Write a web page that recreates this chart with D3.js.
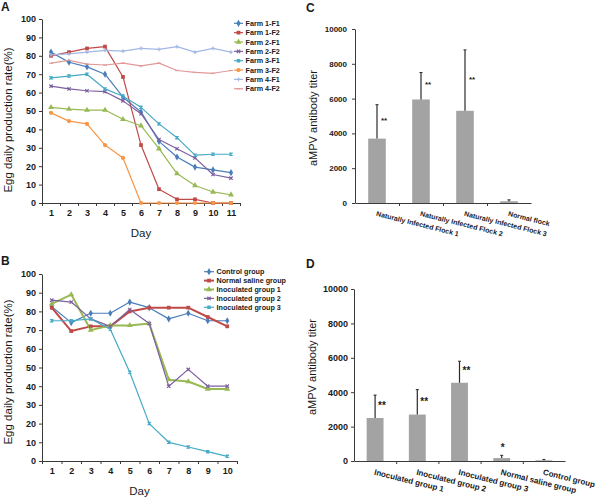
<!DOCTYPE html>
<html><head><meta charset="utf-8">
<script src="https://cdn.jsdelivr.net/npm/d3@7"></script>
<style>
body{margin:0;background:#fff}
svg text{font-family:"Liberation Sans",Arial,sans-serif;fill:#1a1a1a}
</style>
</head><body>
<svg id="c" width="600" height="500"></svg>
<script>
// ---------- Panel A data ----------
const daysA = [1,2,3,4,5,6,7,8,9,10,11];
const namesA = ["Farm 1-F1","Farm 1-F2","Farm 2-F1","Farm 2-F2","Farm 3-F1","Farm 3-F2","Farm 4-F1","Farm 4-F2"];
const farm1F1 = [82, 76.5, 74, 70, 57.5, 49.5, 33.5, 25, 19.5, 18, 16.5];
const farm1F2 = [80, 82, 84, 85, 68.5, 31.5, 7.5, 2, 2, 0, 0];
const farm2F1 = [52, 51, 50.5, 50.5, 45.5, 42, 29.5, 16, 9.5, 6, 4.5];
const farm2F2 = [63.5, 62, 61, 60.5, 55.5, 48.5, 34.5, 29.5, 24.5, 15.5, 13.5];
const farm3F1 = [68, 69, 70, 62, 58, 52, 43, 35.5, 26, 26.5, 26.5];
const farm3F2 = [49, 44.5, 43, 31.5, 24.5, 0, 0, 0, 0, 0, 0];
const farm4F1 = [80.5, 81, 82, 83, 82.5, 84, 83.5, 85, 82, 84, 82];
const farm4F2 = [76, 77.5, 75.5, 75, 76, 74.5, 76, 72, 71, 70.5, 72];

// ---------- Panel B data ----------
const daysB = [1,2,3,4,5,6,7,8,9,10];
const namesB = ["Control group","Normal saline group","Inoculated group 1","Inoculated group 2","Inoculated group 3"];
const controlB = [82.5, 74, 79, 79, 85, 82, 76, 79, 75, 75];
const salineB  = [82, 69.5, 72, 72, 80, 82, 82, 82, 77, 72];
const inoc1B   = [84, 89, 70, 72.5, 72.5, 73.5, 43.5, 42.5, 38.5, 38.5];
const inoc2B   = [86, 85, 76, 72, 81, 73.5, 40, 49, 40, 40];
const inoc3B   = [75, 75, 76, 70.5, 47.5, 20, 10, 7.5, 5, 2.5];

const pctTicks = [0,10,20,30,40,50,60,70,80,90,100];

// ---------- Panel C data ----------
const catC = ["Naturally Infected Flock 1","Naturally Infected Flock 2","Naturally Infected Flock 3","Normal flock"];
const meanC = [3700, 5950, 5300, 100];
const errC  = [1950, 1550, 3500, 80];
const sigC  = ["**","**","**",""];

// ---------- Panel D data ----------
const catD = ["Inoculated group 1","Inoculated group 2","Inoculated group 3","Normal saline group","Control group"];
const meanD = [2500, 2700, 4550, 170, 40];
const errD  = [1330, 1450, 1250, 160, 50];
const sigD  = ["**","**","**","*",""];

const titerTicks = [0,2000,4000,6000,8000,10000];

// ---------- helpers ----------
const svg = d3.select("#c");
const AX = "#3a3a3a";

const symX = {draw(c,s){const r=Math.sqrt(s)/2; c.moveTo(-r,-r);c.lineTo(r,r);c.moveTo(-r,r);c.lineTo(r,-r);}};
const symPlus = {draw(c,s){const r=Math.sqrt(s)/2; c.moveTo(-r,0);c.lineTo(r,0);c.moveTo(0,-r);c.lineTo(0,r);}};
const symAst = {draw(c,s){const r=Math.sqrt(s)/2; c.moveTo(-r,-r);c.lineTo(r,r);c.moveTo(-r,r);c.lineTo(r,-r);c.moveTo(0,-r*1.1);c.lineTo(0,r*1.1);}};
const symDash = {draw(c,s){const r=Math.sqrt(s)/2; c.moveTo(-r,0);c.lineTo(r,0);}};

const markerDefs = {
  diamond:{type:d3.symbolDiamond,size:15,fill:true},
  square:{type:d3.symbolSquare,size:14,fill:true},
  triangle:{type:d3.symbolTriangle,size:15,fill:true},
  circle:{type:d3.symbolCircle,size:14,fill:true},
  x:{type:symX,size:11,fill:false},
  ast:{type:symAst,size:10,fill:false},
  plus:{type:symPlus,size:14,fill:false},
  dash:{type:symDash,size:16,fill:false}
};

function drawMarker(g, kind, color, px, py){
  const m = markerDefs[kind];
  const p = g.append("path").attr("d", d3.symbol().type(m.type).size(m.size)())
    .attr("transform",`translate(${px},${py})`);
  if(m.fill) p.attr("fill",color).attr("stroke","none");
  else p.attr("fill","none").attr("stroke",color).attr("stroke-width",1.2);
}

function styleAxis(sel, fs){
  sel.selectAll("path.domain").attr("stroke",AX).attr("stroke-width",1);
  sel.selectAll(".tick line").attr("stroke",AX).attr("stroke-width",1);
  sel.selectAll(".tick text").attr("font-size",fs).attr("font-weight","bold").attr("fill","#1a1a1a")
     .style("font-family","'Liberation Sans',Arial,sans-serif");
}

function linePanel(cfg){
  const g = svg.append("g");
  const n = cfg.days.length;
  const x = d3.scaleLinear().domain([0.5, n+0.5]).range([cfg.x0, cfg.x1]);
  const y = d3.scaleLinear().domain([0,100]).range([cfg.yBot, cfg.yTop]);

  const ya = g.append("g").attr("transform",`translate(${cfg.x0},0)`)
    .call(d3.axisLeft(y).tickValues(pctTicks).tickFormat(d3.format("d")).tickSize(3).tickSizeOuter(0).tickPadding(3));
  styleAxis(ya, 9);

  const xm = g.append("g").attr("transform",`translate(0,${cfg.yBot})`)
    .call(d3.axisBottom(x).tickValues(d3.range(0.5, n+1, 1)).tickFormat("").tickSize(3).tickSizeOuter(0));
  styleAxis(xm, 9);
  const xl = g.append("g").attr("transform",`translate(0,${cfg.yBot})`)
    .call(d3.axisBottom(x).tickValues(cfg.days).tickFormat(d3.format("d")).tickSize(0).tickPadding(7));
  xl.select("path.domain").remove();
  styleAxis(xl, 9);

  g.append("text").attr("transform",`translate(${cfg.titleX},${cfg.titleY}) rotate(-90)`)
    .attr("text-anchor","middle").attr("font-size",11.5).text("Egg daily production rate(%)");
  g.append("text").attr("x",(cfg.x0+cfg.x1)/2).attr("y",cfg.yBot+34)
    .attr("text-anchor","middle").attr("font-size",11.5).text("Day");

  const line = d3.line().x((d,i)=>x(cfg.days[i])).y(d=>y(d));
  cfg.series.forEach((s,k)=>{
    g.append("path").datum(s).attr("d",line).attr("fill","none")
      .attr("stroke",cfg.colors[k]).attr("stroke-width",cfg.widths[k]).attr("stroke-linejoin","round");
  });
  cfg.series.forEach((s,k)=>{
    s.forEach((v,i)=>drawMarker(g, cfg.markers[k], cfg.colors[k], x(cfg.days[i]), y(v)));
  });

  // legend
  const L = cfg.legend;
  cfg.names.forEach((nm,k)=>{
    const ly = L.y + k*L.dy;
    g.append("line").attr("x1",L.x).attr("x2",L.x+L.w).attr("y1",ly).attr("y2",ly)
      .attr("stroke",cfg.colors[k]).attr("stroke-width",cfg.widths[k]);
    drawMarker(g, cfg.markers[k], cfg.colors[k], L.x+L.w/2, ly);
    g.append("text").attr("x",L.x+L.w+2.5).attr("y",ly).attr("dy","0.35em")
      .attr("font-size",7.2).attr("font-weight","bold").text(nm);
  });
}

function barPanel(cfg){
  const g = svg.append("g");
  const n = cfg.cats.length;
  const x = d3.scaleBand().domain(cfg.cats).range([cfg.x0,cfg.x1]).paddingInner(0.6).paddingOuter(0.3);
  const xt = d3.scaleLinear().domain([0,n]).range([cfg.x0,cfg.x1]);
  const y = d3.scaleLinear().domain([0,10000]).range([cfg.yBot,cfg.yTop]);

  const ya = g.append("g").attr("transform",`translate(${cfg.x0},0)`)
    .call(d3.axisLeft(y).tickValues(titerTicks).tickFormat(d3.format("d")).tickSize(3).tickSizeOuter(0).tickPadding(cfg.tickPad));
  styleAxis(ya, cfg.tickFs);
  const xa = g.append("g").attr("transform",`translate(0,${cfg.yBot})`)
    .call(d3.axisBottom(xt).tickValues(d3.range(1,n)).tickFormat("").tickSize(3).tickSizeOuter(0));
  styleAxis(xa, 8);

  g.selectAll("rect.bar").data(cfg.means).enter().append("rect")
    .attr("x",(d,i)=>x(cfg.cats[i])).attr("width",x.bandwidth())
    .attr("y",d=>y(d)).attr("height",d=>y(0)-y(d)).attr("fill","#a3a3a3");

  cfg.means.forEach((m,i)=>{
    const cx = x(cfg.cats[i]) + x.bandwidth()/2;
    const top = m + cfg.errs[i];
    g.append("line").attr("x1",cx).attr("x2",cx).attr("y1",y(m)).attr("y2",y(top))
      .attr("stroke","#2a2a2a").attr("stroke-width",1.2);
    g.append("line").attr("x1",cx-1.5).attr("x2",cx+1.5).attr("y1",y(top)).attr("y2",y(top))
      .attr("stroke","#2a2a2a").attr("stroke-width",1);
    if(cfg.sig[i]){
      if(cfg.errs[i] > 500){
        g.append("text").attr("x",cx+cfg.starDx).attr("y",y((m+top)/2)+cfg.starDy)
          .attr("font-size",cfg.starFs).attr("font-weight","bold").text(cfg.sig[i]);
      } else {
        g.append("text").attr("x",cx+1).attr("y",y(top)-4.5).attr("text-anchor","middle")
          .attr("font-size",cfg.starFs).attr("font-weight","bold").text(cfg.sig[i]);
      }
    }
    g.append("text").attr("transform",`translate(${cx},${cfg.yBot+8}) rotate(14)`)
      .attr("dy","0.71em").attr("font-size",cfg.catFs).attr("font-weight","bold").text(cfg.cats[i]);
  });

  g.append("text").attr("transform",`translate(${cfg.titleX},${cfg.titleY}) rotate(-90)`)
    .attr("text-anchor","middle").attr("font-size",11).text("aMPV antibody titer");
}

// ---------- draw ----------
linePanel({
  days:daysA, names:namesA,
  series:[farm1F1,farm1F2,farm2F1,farm2F2,farm3F1,farm3F2,farm4F1,farm4F2],
  colors:["#4a7ebb","#be4b48","#98b954","#7d60a0","#46aac5","#f79646","#a3b9e3","#e09a98"],
  markers:["diamond","square","triangle","x","ast","circle","plus","dash"],
  widths:[1.2,1.2,1.2,1.2,1.2,1.2,1.2,1.2],
  x0:42, x1:240, yTop:19, yBot:203, titleX:12, titleY:120,
  legend:{x:234, w:9, y:23.3, dy:9.35}
});
linePanel({
  days:daysB, names:namesB,
  series:[controlB,salineB,inoc1B,inoc2B,inoc3B],
  colors:["#4a7ebb","#be4b48","#98b954","#7d60a0","#46aac5"],
  markers:["diamond","square","triangle","x","ast"],
  widths:[1.2,2,2,1.2,1.2],
  x0:42, x1:237, yTop:274, yBot:461, titleX:12, titleY:372,
  legend:{x:204, w:10, y:271.7, dy:8.9}
});
barPanel({
  cats:catC, means:meanC, errs:errC, sig:sigC,
  x0:355, x1:531, yTop:29, yBot:203, tickFs:8, tickPad:5, catFs:7,
  starFs:8, starDx:4, starDy:1.5, titleX:317, titleY:118
});
barPanel({
  cats:catD, means:meanD, errs:errD, sig:sigD,
  x0:354, x1:565, yTop:289, yBot:461, tickFs:9, tickPad:3, catFs:8,
  starFs:10, starDx:3, starDy:2.5, titleX:316, titleY:367
});

// panel letters
[["A",1,11],["B",1,265],["C",306,12],["D",306,268]].forEach(([t,px,py])=>{
  svg.append("text").attr("x",px).attr("y",py).attr("font-size",12).attr("font-weight","bold").text(t);
});
</script>
</body></html>
